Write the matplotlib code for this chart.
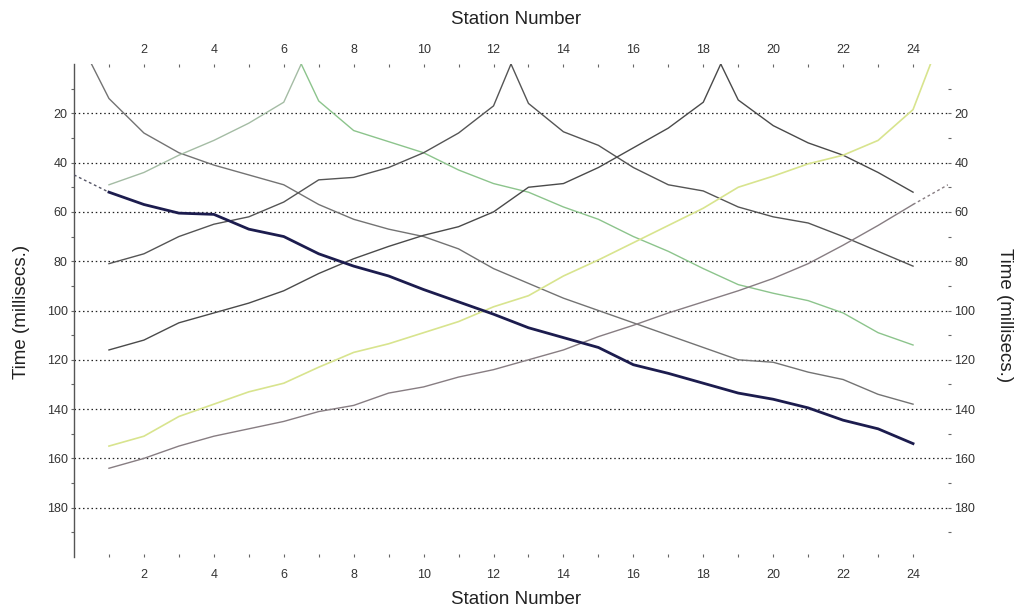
import matplotlib
matplotlib.use("Agg")
import matplotlib.pyplot as plt
from matplotlib.ticker import FixedLocator

plt.rcParams['font.family'] = ['Liberation Sans', 'DejaVu Sans']

stations = list(range(1, 25))

# Shot at station 0.5, travelling right
shotA_x = [0.5] + stations
shotA_t = [0, 14, 28, 36, 41, 45, 49, 57, 63, 67, 70, 75, 83, 89, 95, 100, 105,
           110, 115, 120, 121, 125, 128, 134, 138]

# Shot at station 6.5
shotB_left_x = [1, 2, 3, 4, 5, 6, 6.5]
shotB_left_t = [49, 44, 37, 31, 24, 15.5, 0]
shotB_right_x = [6.5] + list(range(7, 25))
shotB_right_t = [0, 15, 27, 31.5, 36, 43, 48.5, 52, 58, 63, 70, 76, 83, 89.5,
                 93, 96, 101, 109, 114]

# Shot at station 12.5
shotC_left_x = list(range(1, 13)) + [12.5]
shotC_left_t = [81, 77, 70, 65, 62, 56, 47, 46, 42, 36, 28, 17, 0]
shotC_right_x = [12.5] + list(range(13, 25))
shotC_right_t = [0, 16, 27.5, 33, 42, 49, 51.5, 58, 62, 64.5, 70, 76, 82]

# Shot at station 18.5
shotD_left_x = list(range(1, 19)) + [18.5]
shotD_left_t = [116, 112, 105, 101, 97, 92, 85, 79, 74, 69.5, 66, 60, 50, 48.5,
                42, 34, 26, 15.5, 0]
shotD_right_x = [18.5] + list(range(19, 25))
shotD_right_t = [0, 14.6, 25, 32, 37, 44, 52]

# Shot at station 24.5, travelling left
shotE_x = stations + [24.5]
shotE_t = [155, 151, 143, 138, 133, 129.5, 123, 117, 113.5, 109, 104.5, 98.5,
           94, 86, 79.5, 72.5, 65.5, 58.5, 50, 45.5, 40.5, 37, 31, 18.5, 0]

# Off-end shot beyond the left end (thick line)
farF_t = [52, 57, 60.5, 61, 67, 70, 77, 82, 86, 91.5, 96.5, 101.5, 107, 111,
          115, 122, 125.5, 129.5, 133.5, 136, 139.5, 144.5, 148, 154]
farF_ext_x = [0, 1]
farF_ext_t = [45, 52]

# Off-end shot beyond the right end
farG_t = [164, 160, 155, 151, 148, 145, 141, 138.5, 133.5, 131, 127, 124, 120,
          116, 110.6, 106, 101, 96.5, 92, 87, 81, 73.5, 65.5, 57]
farG_ext_x = [24, 25]
farG_ext_t = [57, 49]

x_major = list(range(2, 25, 2))
x_minor = list(range(1, 25, 2))
y_major = list(range(20, 200, 20))
y_minor = list(range(10, 200, 20))

fig = plt.figure(figsize=(10.33, 6.13), dpi=100)
ax = fig.add_axes([74/1033, 1-557/613, (948-74)/1033, (557-64)/613])

ax.set_xlim(0, 25)
ax.set_ylim(200, 0)

for y in y_major:
    ax.axhline(y, color='#222222', lw=0.9, ls=(0, (1.2, 2.2)), zorder=1)

ax.plot(shotA_x, shotA_t, color='#737373', lw=1.0, zorder=3)
ax.plot(shotB_left_x, shotB_left_t, color='#a4bca4', lw=1.0, zorder=3)
ax.plot(shotB_right_x, shotB_right_t, color='#8cc48c', lw=1.0, zorder=3)
ax.plot(shotC_left_x, shotC_left_t, color='#555555', lw=1.0, zorder=3)
ax.plot(shotC_right_x, shotC_right_t, color='#555555', lw=1.0, zorder=3)
ax.plot(shotD_left_x, shotD_left_t, color='#4a4a4a', lw=1.0, zorder=3)
ax.plot(shotD_right_x, shotD_right_t, color='#4a4a4a', lw=1.0, zorder=3)
ax.plot(shotE_x, shotE_t, color='#d8e48e', lw=1.2, zorder=3)
ax.plot(stations, farG_t, color='#877d82', lw=1.0, zorder=3)
ax.plot(farG_ext_x, farG_ext_t, color='#877d82', lw=1.0, ls=(0, (2, 2)), zorder=3)
ax.plot(stations, farF_t, color='#1c1c4e', lw=2.0, zorder=4)
ax.plot(farF_ext_x, farF_ext_t, color='#555566', lw=1.0, ls=(0, (2, 2)), zorder=3)

for s in ['top', 'right', 'bottom']:
    ax.spines[s].set_visible(False)
ax.spines['left'].set_color('#555555')
ax.spines['left'].set_linewidth(1.0)

ax.xaxis.set_major_locator(FixedLocator(x_major))
ax.xaxis.set_minor_locator(FixedLocator(x_minor))
ax.yaxis.set_major_locator(FixedLocator(y_major))
ax.yaxis.set_minor_locator(FixedLocator(y_minor))

ax.tick_params(axis='x', which='both', top=False, bottom=True, labeltop=False,
               labelbottom=True, direction='in', length=2, width=0.8,
               color='#666666', labelsize=9, labelcolor='#333333', pad=8.5)
ax.tick_params(axis='y', which='both', left=True, right=True, labelleft=True,
               labelright=True, direction='out', length=2, width=0.8,
               color='#666666', labelsize=9, labelcolor='#333333', pad=2.5)

top = ax.secondary_xaxis('top')
top.xaxis.set_major_locator(FixedLocator(x_major))
top.xaxis.set_minor_locator(FixedLocator(x_minor))
top.spines['top'].set_visible(False)
top.tick_params(axis='x', which='both', direction='in', length=2, width=0.8,
                color='#666666', labelsize=9, labelcolor='#333333', pad=6)

fig.text(0.5, 1-20/613, 'Station Number', ha='center', va='center', fontsize=13.5, color='#222222')
fig.text(0.5, 1-600/613, 'Station Number', ha='center', va='center', fontsize=13.5, color='#222222')
fig.text(22/1033, 1-312/613, 'Time (millisecs.)', ha='center', va='center',
         rotation=90, fontsize=13.5, color='#222222')
fig.text(1004/1033, 1-315/613, 'Time (millisecs.)', ha='center', va='center',
         rotation=270, fontsize=13.5, color='#222222')

fig.savefig('out.png', dpi=100)
